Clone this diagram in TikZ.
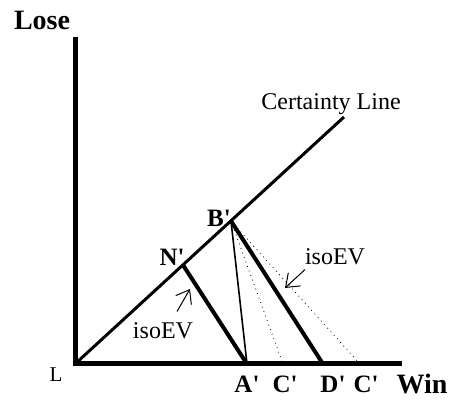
\documentclass[tikz,border=0pt]{standalone}
\usepackage{fontspec}
\setmainfont{Liberation Serif}
\usetikzlibrary{positioning,arrows.meta}

\begin{document}
\begin{tikzpicture}[x=0.5pt, y=-0.5pt,
  axis/.style={line width=2.5pt},
  certline/.style={line width=1.5pt},
  isoline/.style={line width=2pt},
  thinline/.style={line width=0.8pt},
  dotline/.style={line width=0.4pt, dotted},
  lbl/.style={font=\fontsize{12.5}{14}\selectfont\bfseries, inner sep=0pt},
  biglbl/.style={font=\fontsize{14}{16}\selectfont\bfseries, inner sep=0pt},
  txt/.style={font=\fontsize{12}{14}\selectfont, inner sep=0pt},
  note/.style={-{Straight Barb[length=6pt,width=9pt]}, line width=0.5pt},
]
  \useasboundingbox (0,0) rectangle (451,401);

  % axes and certainty line
  \coordinate (O) at (75,364);
  \coordinate (top) at (75,37);
  \coordinate (right) at (402,364);
  \coordinate (cert) at (344,117);
  \draw[axis] (top) -- (O) -- (right);
  \draw[certline] (O) -- (cert);

  % points
  \coordinate (N) at (183,265);
  \coordinate (B) at (231,221);
  \coordinate (A) at (247,364);
  \coordinate (C1) at (283,364);
  \coordinate (D) at (323,364);
  \coordinate (C2) at (360,364);

  \draw[isoline] (N) -- (A);
  \draw[thinline] (B) -- (A);
  \draw[dotline] (B) -- (C1);
  \draw[isoline] (B) -- (D);
  \draw[dotline] (B) -- (C2);

  % labels
  \node[biglbl] (lose) at (42,20) {Lose};
  \node[biglbl] (win) at (422,384) {Win};
  \node[txt, font=\fontsize{10.5}{12}\selectfont] (orig) at (56,375) {L};
  \node[txt] (certlbl) at (331,104) {Certainty Line};
  \node[lbl] (Nlbl) at (172,257) {N\textquotesingle};
  \node[lbl] (Blbl) at (219,218) {B\textquotesingle};
  \node[lbl] (Albl) at (247,384) {A\textquotesingle};
  \node[lbl] (C1lbl) at (285,384) {C\textquotesingle};
  \node[lbl] (Dlbl) at (333,384) {D\textquotesingle};
  \node[lbl] (C2lbl) at (366,384) {C\textquotesingle};

  % isoEV notes
  \node[txt] (isoL) at (163,331) {isoEV};
  \node[txt] (isoR) at (335,257) {isoEV};
  \coordinate (isoLtip) at (190,289);
  \coordinate (isoRtip) at (285,288);
  \draw[note] (isoL.north) ++(14,-11) -- (isoLtip);
  \draw[note] (isoR.south) ++(-30,4) -- (isoRtip);
\end{tikzpicture}
\end{document}
